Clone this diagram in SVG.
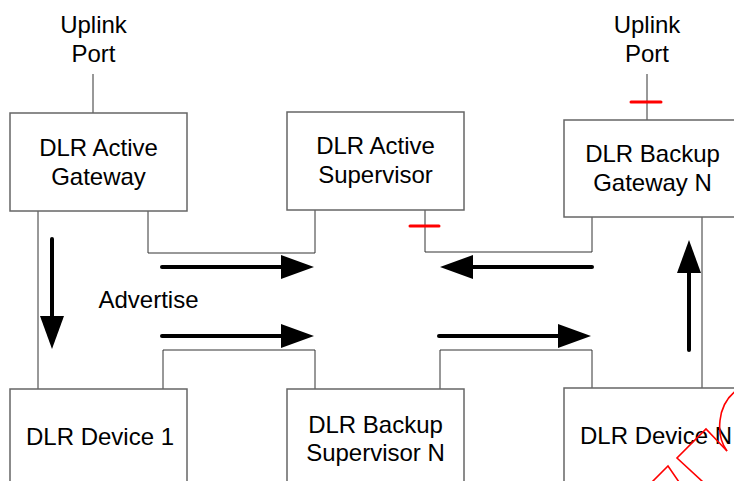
<svg xmlns="http://www.w3.org/2000/svg" width="734" height="481" viewBox="0 0 734 481">
  <style>
    .box { fill: #ffffff; stroke: #666666; stroke-width: 1.5; }
    .lbl { font-family: "Liberation Sans", Arial, sans-serif; font-size: 24px; fill: #000000; text-anchor: middle; }
    .wire { fill: none; stroke: #333333; stroke-width: 1; }
    .flow { fill: none; stroke: #000000; stroke-width: 4; stroke-linecap: round; marker-end: url(#ah); }
    .tick { stroke: #ff0000; stroke-width: 3; stroke-linecap: round; }
    .stamp { fill: none; stroke: #ff0000; stroke-width: 1.6; }
  </style>
  <defs>
    <marker id="ah" markerUnits="userSpaceOnUse" markerWidth="34" markerHeight="24" refX="0" refY="12" orient="auto">
      <path d="M0,0 L33,12 L0,24 z" fill="#000000"/>
    </marker>
  </defs>
  <rect width="734" height="481" fill="#ffffff"/>

  <g id="connectors">
    <line class="wire" x1="93" y1="74" x2="93" y2="113"/>
    <line class="wire" x1="647" y1="74" x2="647" y2="120"/>
    <polyline class="wire" points="148,211 148,253 315,253 315,210"/>
    <polyline class="wire" points="425,210 425,252 592,252 592,217"/>
    <line class="wire" x1="38" y1="211" x2="38" y2="389"/>
    <polyline class="wire" points="163,389 163,350 315,350 315,389"/>
    <polyline class="wire" points="440,389 440,350 592,350 592,388"/>
    <line class="wire" x1="702" y1="388" x2="702" y2="217"/>
    <line class="tick" x1="631" y1="102" x2="661" y2="102"/>
    <line class="tick" x1="410" y1="226" x2="439" y2="226"/>
    <line class="flow" x1="162" y1="267" x2="281" y2="267"/>
    <line class="flow" x1="162" y1="336" x2="281" y2="336"/>
    <line class="flow" x1="592" y1="267" x2="473" y2="267"/>
    <line class="flow" x1="439" y1="336" x2="558" y2="336"/>
    <line class="flow" x1="52" y1="239" x2="52" y2="316"/>
    <line class="flow" x1="689" y1="350" x2="689" y2="273"/>
  </g>

  <g id="uplink-left">
    <text class="lbl" x="93.5" y="33">Uplink</text>
    <text class="lbl" x="93.5" y="62">Port</text>
  </g>
  <g id="uplink-right">
    <text class="lbl" x="647" y="33">Uplink</text>
    <text class="lbl" x="647" y="62">Port</text>
  </g>
  <g id="advertise">
    <text class="lbl" x="148.5" y="308">Advertise</text>
  </g>

  <g id="active-gateway">
    <rect class="box" x="10" y="113" width="177" height="98"/>
    <text class="lbl" x="98.5" y="156">DLR Active</text>
    <text class="lbl" x="98.5" y="185">Gateway</text>
  </g>
  <g id="active-supervisor">
    <rect class="box" x="287" y="112" width="177" height="98"/>
    <text class="lbl" x="375.5" y="154">DLR Active</text>
    <text class="lbl" x="375.5" y="183">Supervisor</text>
  </g>
  <g id="backup-gateway">
    <rect class="box" x="564" y="120" width="177" height="97"/>
    <text class="lbl" x="652.5" y="162">DLR Backup</text>
    <text class="lbl" x="652.5" y="191">Gateway N</text>
  </g>
  <g id="device-1">
    <rect class="box" x="10" y="389" width="177" height="98"/>
    <text class="lbl" x="100" y="445">DLR Device 1</text>
  </g>
  <g id="backup-supervisor">
    <rect class="box" x="287" y="389" width="177" height="98"/>
    <text class="lbl" x="375.5" y="433">DLR Backup</text>
    <text class="lbl" x="375.5" y="461">Supervisor N</text>
  </g>
  <g id="device-n">
    <rect class="box" x="564" y="388" width="177" height="98"/>
    <text class="lbl" x="656" y="444">DLR Device N</text>
  </g>

  <g id="stamp">
    <polyline class="stamp" points="652,482 668,466 679,482"/>
    <polyline class="stamp" points="703,482 677,458 706,429 727,451"/>
    <path class="stamp" d="M727,451 C716,436 716,405 737,390"/>
  </g>
</svg>
